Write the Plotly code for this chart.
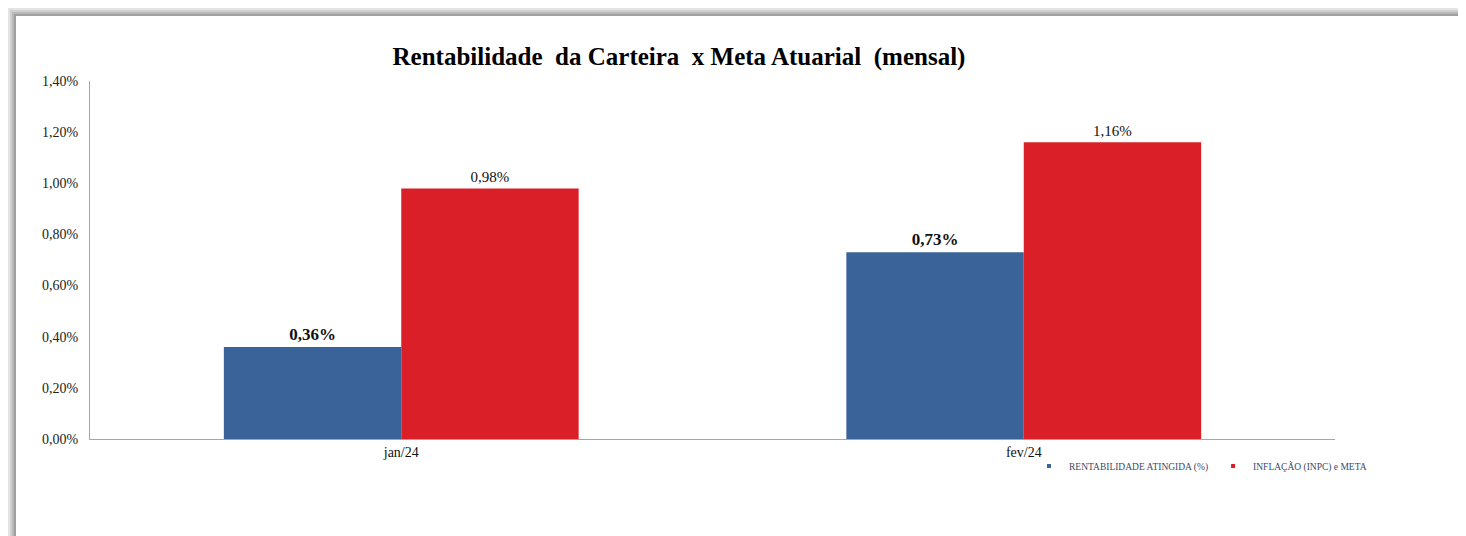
import plotly.graph_objects as go

# dados
meses = ["jan/24", "fev/24"]
rentabilidade = [0.36, 0.73]
inflacao_meta = [0.98, 1.16]
y_ticks = [0.0, 0.2, 0.4, 0.6, 0.8, 1.0, 1.2, 1.4]
y_tick_labels = ["0,00%", "0,20%", "0,40%", "0,60%", "0,80%", "1,00%", "1,20%", "1,40%"]

AZUL = "#3A6399"
VERMELHO = "#DA1F28"
FONTE = "'Liberation Serif', 'Times New Roman', serif"

fig = go.Figure()

fig.add_trace(go.Bar(
    x=meses, y=rentabilidade, name="RENTABILIDADE ATINGIDA (%)",
    marker=dict(color=AZUL, line=dict(width=0)),
    texttemplate="<b>%{y:.2f}%</b>", textposition="outside",
    textfont=dict(family=FONTE, size=17, color="#111"),
    cliponaxis=False, showlegend=False,
))
fig.add_trace(go.Bar(
    x=meses, y=inflacao_meta, name="INFLAÇÃO (INPC) e META",
    marker=dict(color=VERMELHO, line=dict(width=0)),
    texttemplate="%{y:.2f}%", textposition="outside",
    textfont=dict(family=FONTE, size=15, color="#111"),
    cliponaxis=False, showlegend=False,
))

# entradas de legenda com marcador pequeno
for nome, cor in [("RENTABILIDADE ATINGIDA (%)", AZUL), ("INFLAÇÃO (INPC) e META", VERMELHO)]:
    fig.add_trace(go.Scatter(
        x=[None], y=[None], mode="markers", name=nome,
        marker=dict(symbol="square", size=4, color=cor),
    ))

# a página tem 8px de margem no body: tudo em coordenadas da figura
W, H = 1458, 528
L, R, T, B = 82, 131, 73, 97
pw, ph = W - L - R, H - T - B


def px(x):
    return (x - L) / pw


def py(y):
    return (H - B - y) / ph


# sombra da moldura (topo e esquerda)
shapes = []
for d, cor in [(8, "#e4e4e4"), (6, "#d0d0d0"), (4, "#b8b8b8"), (2, "#a0a0a0")]:
    off = 8 - d
    shapes.append(dict(type="rect", xref="paper", yref="paper",
                       x0=px(off), x1=px(W + 5), y0=py(off), y1=py(8),
                       fillcolor=cor, line=dict(width=0), layer="below"))
    shapes.append(dict(type="rect", xref="paper", yref="paper",
                       x0=px(off), x1=px(8), y0=py(off), y1=py(H + 5),
                       fillcolor=cor, line=dict(width=0), layer="below"))

fig.update_layout(
    width=W, height=H,
    margin=dict(l=L, r=R, t=T, b=B),
    paper_bgcolor="white", plot_bgcolor="rgba(0,0,0,0)",
    separators=",.",
    barmode="group", bargap=0.43, bargroupgap=0,
    title=dict(
        text="<b>Rentabilidade\u00a0 da Carteira\u00a0 x Meta Atuarial\u00a0 (mensal)</b>",
        x=671 / W, xanchor="center", y=1 - 48 / H, yanchor="middle",
        font=dict(family=FONTE, size=25, color="#000"),
    ),
    font=dict(family=FONTE, size=13, color="#222"),
    xaxis=dict(
        showline=True, linecolor="#a6a6a6", linewidth=1,
        ticks="", tickfont=dict(family=FONTE, size=14, color="#111"),
        showgrid=False,
    ),
    yaxis=dict(
        range=[0, 1.4], tickvals=y_ticks, ticktext=y_tick_labels,
        showline=True, linecolor="#a6a6a6", linewidth=1,
        showgrid=False, zeroline=False, ticks="",
        tickfont=dict(family=FONTE, size=14, color="#222"),
        ticklabelstandoff=8,
    ),
    legend=dict(
        orientation="h", x=px(1021), xanchor="left", y=py(458), yanchor="middle",
        font=dict(family=FONTE, size=9.5, color="#3a4a6a"),
        bgcolor="rgba(0,0,0,0)", itemwidth=30, tracegroupgap=0,
    ),
    shapes=shapes,
)

fig.write_html("out.html")
